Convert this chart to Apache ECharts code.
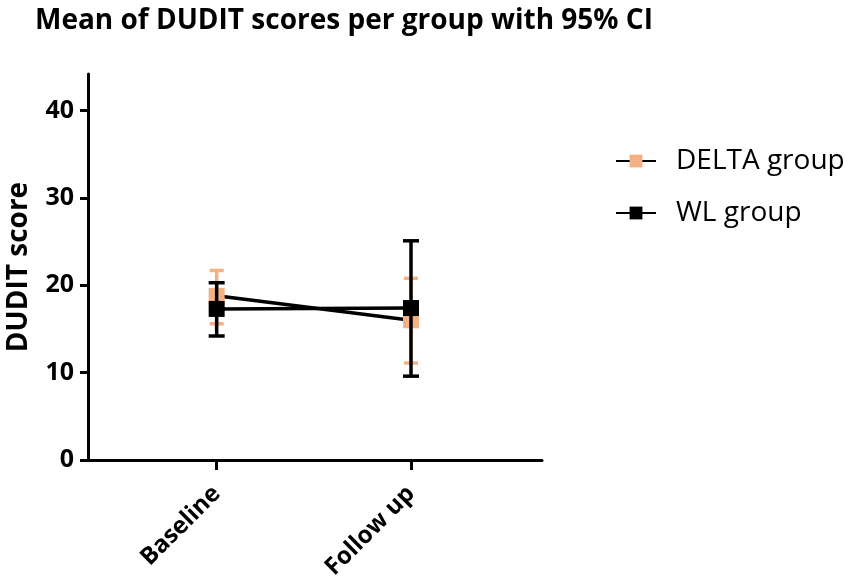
<!DOCTYPE html>
<html>
<head>
<meta charset="utf-8">
<script src="https://cdn.jsdelivr.net/npm/echarts@6/dist/echarts.min.js"></script>
<style>
html, body { margin: 0; padding: 0; background: #fff; }
#main { width: 851px; height: 585px; }
</style>
</head>
<body>
<div id="main"></div>
<script>
// data
var timepoints = ['Baseline', 'Follow up'];
var groups = ['DELTA group', 'WL group'];
var deltaMean = [18.8, 16.0];
var deltaLow = [15.6, 11.1];
var deltaHigh = [21.7, 20.8];
var wlMean = [17.3, 17.4];
var wlLow = [14.2, 9.6];
var wlHigh = [20.3, 25.1];
var yTicks = [0, 10, 20, 30, 40];

var ORANGE = '#F4B183';
var FONT = 'Open Sans';

function points(means) {
    return means.map(function (v, i) { return [i, v]; });
}
function bars(low, high) {
    return low.map(function (v, i) { return [i, v, high[i]]; });
}

// error bar with caps
function errorBar(color, capHalf) {
    return function (params, api) {
        var lo = api.coord([api.value(0), api.value(1)]);
        var hi = api.coord([api.value(0), api.value(2)]);
        var st = { stroke: color, lineWidth: 3.5 };
        return {
            type: 'group',
            children: [
                { type: 'line', shape: { x1: lo[0], y1: lo[1], x2: hi[0], y2: hi[1] }, style: st },
                { type: 'line', shape: { x1: lo[0] - capHalf, y1: lo[1], x2: lo[0] + capHalf, y2: lo[1] }, style: st },
                { type: 'line', shape: { x1: hi[0] - capHalf, y1: hi[1], x2: hi[0] + capHalf, y2: hi[1] }, style: st }
            ]
        };
    };
}

var chart = echarts.init(document.getElementById('main'));

var option = {
    animation: false,
    backgroundColor: '#fff',
    title: {
        text: 'Mean of DUDIT scores per group with 95% CI',
        left: 30,
        top: 2,
        textStyle: { fontFamily: FONT, fontSize: 28, fontWeight: 'bold', color: '#000' }
    },
    legend: {
        orient: 'vertical',
        left: 610,
        top: 142,
        itemWidth: 40,
        itemHeight: 16,
        itemGap: 24,
        data: groups,
        textStyle: { fontFamily: FONT, fontSize: 28, color: '#000', padding: [0, 0, 0, 15] }
    },
    grid: { left: 88, right: 309, top: 74, bottom: 125, outerBoundsMode: 'none', containLabel: false },
    xAxis: {
        type: 'value',
        min: -0.662,
        max: 1.674,
        splitLine: { show: false },
        axisLine: { lineStyle: { color: '#000', width: 3 } },
        axisTick: { show: true, length: 10, lineStyle: { color: '#000', width: 3 }, customValues: [0, 1] },
        axisLabel: {
            customValues: [0, 1],
            rotate: 45,
            margin: 30,
            fontFamily: FONT,
            fontSize: 24,
            fontWeight: 'bold',
            color: '#000',
            formatter: function (v) { return timepoints[Math.round(v)]; }
        }
    },
    yAxis: {
        type: 'value',
        min: 0,
        max: 44.2,
        name: 'DUDIT score',
        nameLocation: 'middle',
        nameGap: 55,
        nameTextStyle: { fontFamily: FONT, fontSize: 28, fontWeight: 'bold', color: '#000' },
        splitLine: { show: false },
        axisLine: { show: true, onZero: false, lineStyle: { color: '#000', width: 3 } },
        axisTick: { show: true, length: 8, lineStyle: { color: '#000', width: 3 }, customValues: yTicks },
        axisLabel: {
            customValues: yTicks,
            margin: 14,
            fontFamily: FONT,
            fontSize: 25,
            fontWeight: 'bold',
            color: '#000'
        }
    },
    series: [
        {
            type: 'custom',
            name: 'DELTA err',
            renderItem: errorBar(ORANGE, 7),
            data: bars(deltaLow, deltaHigh),
            z: 1,
            silent: true
        },
        {
            type: 'line',
            name: 'DELTA group',
            data: points(deltaMean),
            symbol: 'rect',
            symbolSize: 16,
            itemStyle: { color: ORANGE },
            lineStyle: { color: '#000', width: 3.5 },
            z: 2
        },
        {
            type: 'custom',
            name: 'WL err',
            renderItem: errorBar('#000', 8),
            data: bars(wlLow, wlHigh),
            z: 3,
            silent: true
        },
        {
            type: 'line',
            name: 'WL group',
            data: points(wlMean),
            symbol: 'rect',
            symbolSize: 16,
            itemStyle: { color: '#000' },
            lineStyle: { color: '#000', width: 3.5 },
            z: 4
        }
    ]
};

chart.setOption(option);
</script>
</body>
</html>
